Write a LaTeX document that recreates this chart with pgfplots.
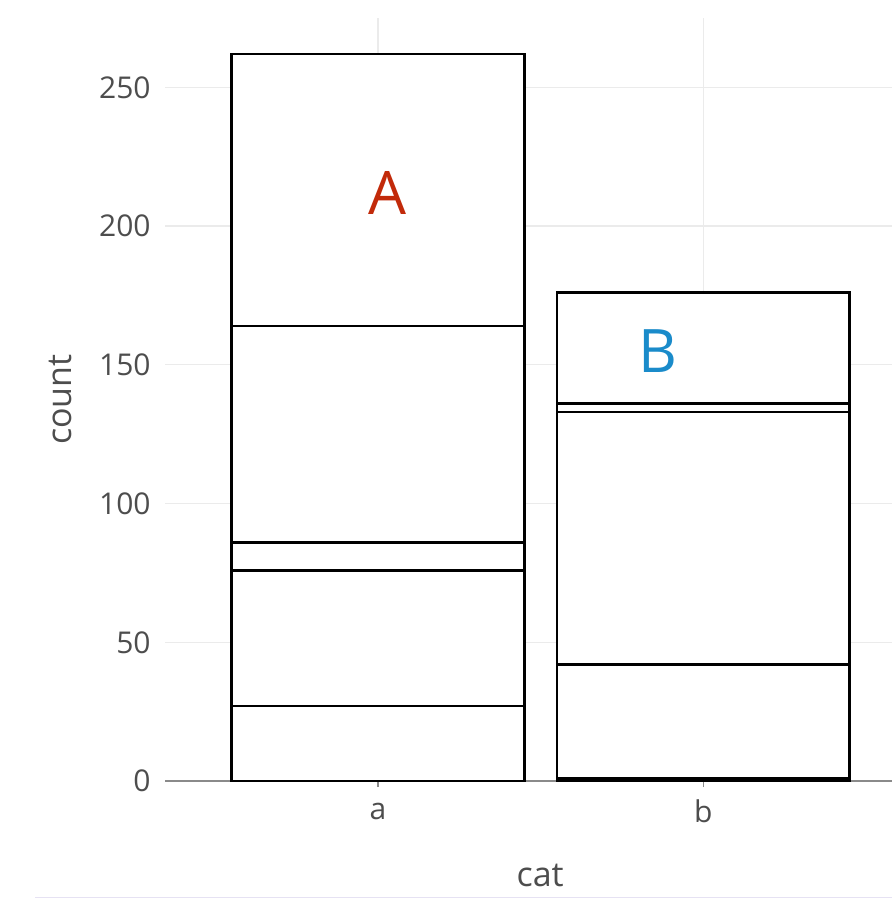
\documentclass[border=0pt]{standalone}
\usepackage{pgfplots}
\pgfplotsset{compat=1.18}
\usepackage{fontspec}
\setmainfont{Open Sans}
\definecolor{gridc}{HTML}{EBEBEB}
\definecolor{axisc}{HTML}{8A8A8A}
\definecolor{labc}{HTML}{4D4D4D}
\definecolor{lblA}{RGB}{194,42,10}
\definecolor{lblB}{RGB}{26,139,202}
\definecolor{lav}{HTML}{E6E2F3}
\pgfplotsset{barsty/.style={draw=black, fill=white, line width=1.4pt}}
\begin{document}
\begin{tikzpicture}
\useasboundingbox (0,0) rectangle (446pt,449.5pt);
\begin{axis}[
  at={(82.5pt,59pt)}, anchor=south west, scale only axis,
  width=363.5pt, height=381.5pt,
  xmin=-0.655, xmax=1.58, ymin=0, ymax=275,
  ybar stacked, bar width=0.9,
  xtick={0,1}, xticklabels={a,b},
  ytick={0,50,...,250},
  grid=major, major grid style={gridc, line width=0.6pt},
  axis x line*=bottom, axis y line*=left,
  x axis line style={axisc, line width=0.8pt, -},
  y axis line style={draw=none},
  xtick style={axisc, line width=0.6pt}, ytick style={draw=none},
  tick align=outside, major tick length=3pt,
  /pgf/number format/assume math mode=true,
  ticklabel style={font=\fontsize{15}{18}\selectfont, text=labc},
  yticklabel style={anchor=east, inner sep=0pt, xshift=-4pt},
  xticklabel style={anchor=center, inner sep=0pt, yshift=-12pt},
  clip=false,
]
\addplot[barsty] coordinates {(0,27) (1,1)};
\addplot[barsty] coordinates {(0,49) (1,41)};
\addplot[barsty] coordinates {(0,10) (1,91)};
\addplot[barsty] coordinates {(0,78) (1,3)};
\addplot[barsty] coordinates {(0,98) (1,40)};
\coordinate (pA) at (axis cs:0.03,212);
\coordinate (pB) at (axis cs:0.86,155);
\node[text=labc, font=\fontsize{17}{20}\selectfont] at ([yshift=-47pt]rel axis cs:0.516,0) {cat};
\node[text=labc, font=\fontsize{17}{20}\selectfont, rotate=90] at ([xshift=-52.5pt]rel axis cs:0,0.5) {count};
\end{axis}
\node[text=lblA, font=\fontsize{30}{34}\selectfont] at (pA) {A};
\node[text=lblB, font=\fontsize{30}{34}\selectfont] at (pB) {B};
\draw[lav, line width=0.8pt] (17.5pt,0.8pt) -- (446pt,0.8pt);
\end{tikzpicture}
\end{document}
